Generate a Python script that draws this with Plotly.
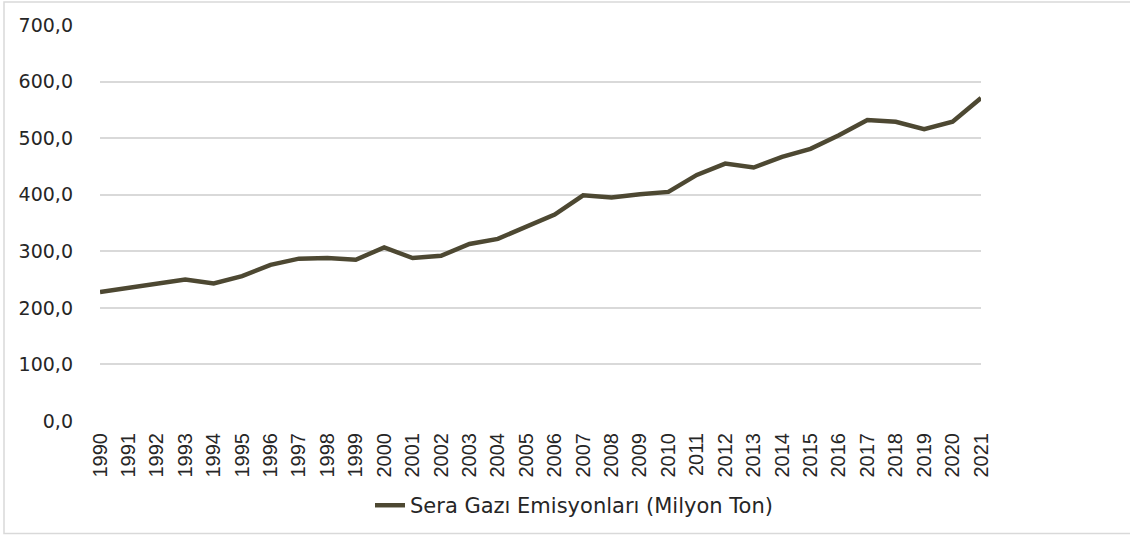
import plotly.graph_objects as go

years = [str(y) for y in range(1990, 2022)]
emissions = [228, 235, 242, 250, 243, 256, 276, 287, 288, 285,
             307, 288, 292, 313, 322, 344, 365, 399, 395, 401,
             405, 435, 455, 448, 467, 481, 505, 532, 529, 516,
             529, 571]
y_tickvals = [0, 100, 200, 300, 400, 500, 600, 700]
y_ticktext = ["0,0", "100,0", "200,0", "300,0", "400,0", "500,0", "600,0", "700,0"]
series_name = "Sera Gazı Emisyonları (Milyon Ton)"

W, H = 1130, 538
L, R, T, B = 100, 149, 25, 115
pw, ph = W - L - R, H - T - B

fig = go.Figure()
fig.add_trace(go.Scatter(
    x=years, y=emissions, mode="lines", name=series_name,
    line=dict(color="#4d4832", width=4.5),
))

def px_x(x):
    return (x - L) / pw

def px_y(y):
    return (H - B - y) / ph

fig.update_layout(
    width=W, height=H, autosize=False,
    margin=dict(l=L, r=R, t=T, b=B, pad=0),
    paper_bgcolor="white", plot_bgcolor="white",
    showlegend=True,
    legend=dict(
        orientation="h", x=px_x(574), y=px_y(508), xanchor="center", yanchor="middle",
        font=dict(family="DejaVu Sans", size=21, color="#262626"),
        bgcolor="rgba(0,0,0,0)",
    ),
    xaxis=dict(
        type="category", range=[0, len(years) - 1],
        tickangle=-90, showgrid=False, zeroline=False, showline=False,
        ticks="", ticklabelstandoff=7,
        tickfont=dict(family="Liberation Sans", size=20, color="#262626"),
    ),
    yaxis=dict(
        range=[0, 700], tickvals=y_tickvals, ticktext=y_ticktext,
        showgrid=True, gridcolor="#d9d9d9", gridwidth=1.5,
        zeroline=False, showline=False, ticks="", ticklabelstandoff=26,
        tickfont=dict(family="DejaVu Sans", size=19, color="#262626"),
    ),
    shapes=[dict(
        type="rect", xref="paper", yref="paper",
        x0=px_x(4), x1=px_x(1140), y0=px_y(536), y1=px_y(2),
        line=dict(color="#d9d9d9", width=1.5), fillcolor="rgba(0,0,0,0)", layer="below",
    )],
)

fig.write_html(
    "out.html",
    config={"displayModeBar": False},
    post_script="document.body.style.margin='0';document.body.style.overflow='hidden';",
)
